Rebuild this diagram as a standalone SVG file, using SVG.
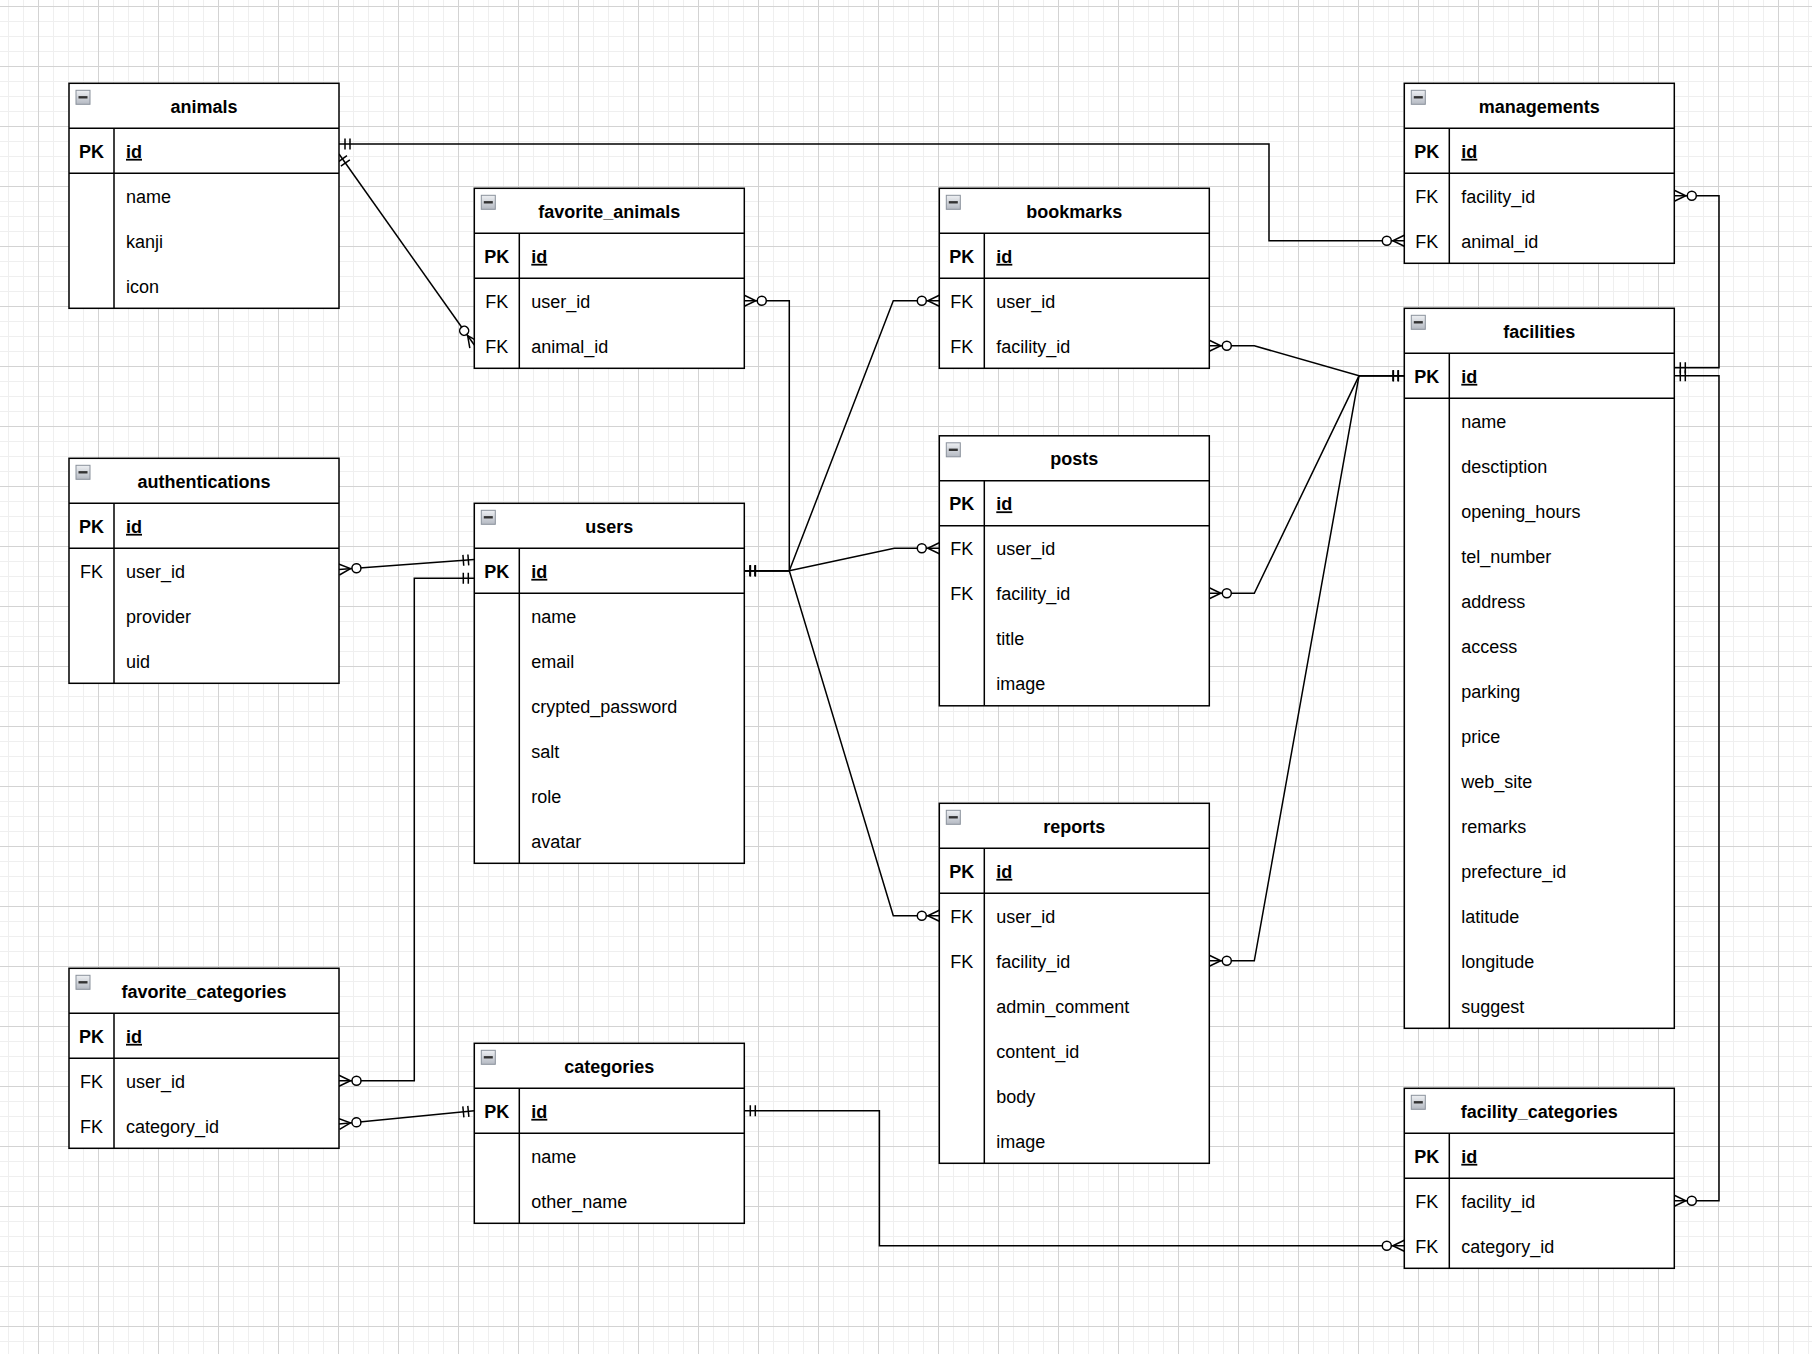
<svg xmlns="http://www.w3.org/2000/svg" xmlns:xlink="http://www.w3.org/1999/xlink" width="1812" height="1354" viewBox="0 0 1812 1354">
<style>
text{font-family:"Liberation Sans",Arial,Helvetica,sans-serif;font-size:18px;fill:#000}
.h{font-weight:bold;text-anchor:middle}
.k{text-anchor:middle}
.pk{font-weight:bold}
.id{font-weight:bold;text-decoration:underline}
.box{fill:#fff;stroke:#000;stroke-width:1.5}
.ln{fill:none;stroke:#000;stroke-width:1.5}
.edge{fill:none;stroke:#000;stroke-width:1.5}
.one{marker-start:url(#one)}
.many{marker-start:url(#many)}
.toOne{marker-end:url(#one)}
.toMany{marker-end:url(#many)}
</style>
<defs>
<pattern id="grid" patternUnits="userSpaceOnUse" x="38" y="6" width="60" height="60">
<rect width="60" height="60" fill="#fff"/>
<rect x="15" y="0" width="1" height="60" fill="#efefef"/>
<rect x="30" y="0" width="1" height="60" fill="#efefef"/>
<rect x="45" y="0" width="1" height="60" fill="#efefef"/>
<rect x="0" y="15" width="60" height="1" fill="#efefef"/>
<rect x="0" y="30" width="60" height="1" fill="#efefef"/>
<rect x="0" y="45" width="60" height="1" fill="#efefef"/>
<rect x="0" y="0" width="1" height="60" fill="#d3d3d3"/>
<rect x="0" y="0" width="60" height="1" fill="#d3d3d3"/>
</pattern>
<linearGradient id="ig" x1="0" y1="0" x2="0" y2="1">
<stop offset="0" stop-color="#eef0f3"/>
<stop offset="1" stop-color="#b4b9c2"/>
</linearGradient>
<g id="icon">
<rect x="7" y="7" width="14" height="14" fill="url(#ig)" stroke="#8a919c" stroke-width="1"/>
<rect x="9.5" y="12.8" width="9" height="2.4" fill="#333"/>
</g>
<marker id="one" markerUnits="userSpaceOnUse" markerWidth="30" markerHeight="30" refX="0" refY="0" orient="auto-start-reverse" overflow="visible">
<path d="M-6,-5.5V5.5M-11,-5.5V5.5" fill="none" stroke="#000" stroke-width="1.5"/>
</marker>
<marker id="many" markerUnits="userSpaceOnUse" markerWidth="30" markerHeight="30" refX="0" refY="0" orient="auto-start-reverse" overflow="visible">
<path d="M0,-5.5L-11.5,0L0,5.5" fill="none" stroke="#000" stroke-width="1.5"/>
<circle cx="-17.5" cy="0" r="4.5" fill="#fff" stroke="#000" stroke-width="1.5"/>
</marker>
</defs>
<rect width="1812" height="1354" fill="url(#grid)"/>

<g id="connectors">
<path class="edge one toMany" d="M339,144H1269V240.8H1404.3"/>
<path class="edge one toMany" d="M339,154L474.3,345"/>
<path class="edge many toOne" d="M744.3,300.8H789.3V570.8H744.3"/>
<path class="edge one toMany" d="M744.3,570.8H789.3L893.3,300.8H939.3"/>
<path class="edge one toMany" d="M744.3,570.8H789.3L894.3,548.3H939.3"/>
<path class="edge one toMany" d="M744.3,570.8H789.3L893.3,915.8H939.3"/>
<path class="edge many toOne" d="M339,569.5L474.3,559.5"/>
<path class="edge many toOne" d="M339,1080.8H414.3V578.3H474.3"/>
<path class="edge many toOne" d="M339,1124L474.3,1110.8"/>
<path class="edge one toMany" d="M744.3,1110.8H879.4V1245.8H1404.3"/>
<path class="edge many toOne" d="M1209.3,345.8H1254.3L1359,375.8H1404.3"/>
<path class="edge many toOne" d="M1209.3,593.3H1254.3L1359,375.8H1404.3"/>
<path class="edge many toOne" d="M1209.3,960.8H1254.3L1359,375.8H1404.3"/>
<path class="edge many toOne" d="M1674.3,195.8H1719V367.7H1674.3"/>
<path class="edge many toOne" d="M1674.3,1200.8H1719V375.7H1674.3"/>
</g>

<g id="animals" transform="translate(69,83.3)">
<rect class="box" width="270" height="225"/>
<path class="ln" d="M0,45H270M0,90H270M45,45V225"/>
<use xlink:href="#icon"/>
<text class="h" x="135" y="29.5">animals</text>
<text class="k pk" x="22.5" y="74.5">PK</text>
<text class="id" x="57" y="74.5">id</text>
<text x="57" y="119.5">name</text>
<text x="57" y="164.5">kanji</text>
<text x="57" y="209.5">icon</text>
</g>

<g id="favorite_animals" transform="translate(474.3,188.3)">
<rect class="box" width="270" height="180"/>
<path class="ln" d="M0,45H270M0,90H270M45,45V180"/>
<use xlink:href="#icon"/>
<text class="h" x="135" y="29.5">favorite_animals</text>
<text class="k pk" x="22.5" y="74.5">PK</text>
<text class="id" x="57" y="74.5">id</text>
<text class="k" x="22.5" y="119.5">FK</text>
<text x="57" y="119.5">user_id</text>
<text class="k" x="22.5" y="164.5">FK</text>
<text x="57" y="164.5">animal_id</text>
</g>

<g id="bookmarks" transform="translate(939.3,188.3)">
<rect class="box" width="270" height="180"/>
<path class="ln" d="M0,45H270M0,90H270M45,45V180"/>
<use xlink:href="#icon"/>
<text class="h" x="135" y="29.5">bookmarks</text>
<text class="k pk" x="22.5" y="74.5">PK</text>
<text class="id" x="57" y="74.5">id</text>
<text class="k" x="22.5" y="119.5">FK</text>
<text x="57" y="119.5">user_id</text>
<text class="k" x="22.5" y="164.5">FK</text>
<text x="57" y="164.5">facility_id</text>
</g>

<g id="managements" transform="translate(1404.3,83.3)">
<rect class="box" width="270" height="180"/>
<path class="ln" d="M0,45H270M0,90H270M45,45V180"/>
<use xlink:href="#icon"/>
<text class="h" x="135" y="29.5">managements</text>
<text class="k pk" x="22.5" y="74.5">PK</text>
<text class="id" x="57" y="74.5">id</text>
<text class="k" x="22.5" y="119.5">FK</text>
<text x="57" y="119.5">facility_id</text>
<text class="k" x="22.5" y="164.5">FK</text>
<text x="57" y="164.5">animal_id</text>
</g>

<g id="facilities" transform="translate(1404.3,308.3)">
<rect class="box" width="270" height="720"/>
<path class="ln" d="M0,45H270M0,90H270M45,45V720"/>
<use xlink:href="#icon"/>
<text class="h" x="135" y="29.5">facilities</text>
<text class="k pk" x="22.5" y="74.5">PK</text>
<text class="id" x="57" y="74.5">id</text>
<text x="57" y="119.5">name</text>
<text x="57" y="164.5">desctiption</text>
<text x="57" y="209.5">opening_hours</text>
<text x="57" y="254.5">tel_number</text>
<text x="57" y="299.5">address</text>
<text x="57" y="344.5">access</text>
<text x="57" y="389.5">parking</text>
<text x="57" y="434.5">price</text>
<text x="57" y="479.5">web_site</text>
<text x="57" y="524.5">remarks</text>
<text x="57" y="569.5">prefecture_id</text>
<text x="57" y="614.5">latitude</text>
<text x="57" y="659.5">longitude</text>
<text x="57" y="704.5">suggest</text>
</g>

<g id="authentications" transform="translate(69,458.3)">
<rect class="box" width="270" height="225"/>
<path class="ln" d="M0,45H270M0,90H270M45,45V225"/>
<use xlink:href="#icon"/>
<text class="h" x="135" y="29.5">authentications</text>
<text class="k pk" x="22.5" y="74.5">PK</text>
<text class="id" x="57" y="74.5">id</text>
<text class="k" x="22.5" y="119.5">FK</text>
<text x="57" y="119.5">user_id</text>
<text x="57" y="164.5">provider</text>
<text x="57" y="209.5">uid</text>
</g>

<g id="users" transform="translate(474.3,503.3)">
<rect class="box" width="270" height="360"/>
<path class="ln" d="M0,45H270M0,90H270M45,45V360"/>
<use xlink:href="#icon"/>
<text class="h" x="135" y="29.5">users</text>
<text class="k pk" x="22.5" y="74.5">PK</text>
<text class="id" x="57" y="74.5">id</text>
<text x="57" y="119.5">name</text>
<text x="57" y="164.5">email</text>
<text x="57" y="209.5">crypted_password</text>
<text x="57" y="254.5">salt</text>
<text x="57" y="299.5">role</text>
<text x="57" y="344.5">avatar</text>
</g>

<g id="posts" transform="translate(939.3,435.8)">
<rect class="box" width="270" height="270"/>
<path class="ln" d="M0,45H270M0,90H270M45,45V270"/>
<use xlink:href="#icon"/>
<text class="h" x="135" y="29.5">posts</text>
<text class="k pk" x="22.5" y="74.5">PK</text>
<text class="id" x="57" y="74.5">id</text>
<text class="k" x="22.5" y="119.5">FK</text>
<text x="57" y="119.5">user_id</text>
<text class="k" x="22.5" y="164.5">FK</text>
<text x="57" y="164.5">facility_id</text>
<text x="57" y="209.5">title</text>
<text x="57" y="254.5">image</text>
</g>

<g id="reports" transform="translate(939.3,803.3)">
<rect class="box" width="270" height="360"/>
<path class="ln" d="M0,45H270M0,90H270M45,45V360"/>
<use xlink:href="#icon"/>
<text class="h" x="135" y="29.5">reports</text>
<text class="k pk" x="22.5" y="74.5">PK</text>
<text class="id" x="57" y="74.5">id</text>
<text class="k" x="22.5" y="119.5">FK</text>
<text x="57" y="119.5">user_id</text>
<text class="k" x="22.5" y="164.5">FK</text>
<text x="57" y="164.5">facility_id</text>
<text x="57" y="209.5">admin_comment</text>
<text x="57" y="254.5">content_id</text>
<text x="57" y="299.5">body</text>
<text x="57" y="344.5">image</text>
</g>

<g id="favorite_categories" transform="translate(69,968.3)">
<rect class="box" width="270" height="180"/>
<path class="ln" d="M0,45H270M0,90H270M45,45V180"/>
<use xlink:href="#icon"/>
<text class="h" x="135" y="29.5">favorite_categories</text>
<text class="k pk" x="22.5" y="74.5">PK</text>
<text class="id" x="57" y="74.5">id</text>
<text class="k" x="22.5" y="119.5">FK</text>
<text x="57" y="119.5">user_id</text>
<text class="k" x="22.5" y="164.5">FK</text>
<text x="57" y="164.5">category_id</text>
</g>

<g id="categories" transform="translate(474.3,1043.3)">
<rect class="box" width="270" height="180"/>
<path class="ln" d="M0,45H270M0,90H270M45,45V180"/>
<use xlink:href="#icon"/>
<text class="h" x="135" y="29.5">categories</text>
<text class="k pk" x="22.5" y="74.5">PK</text>
<text class="id" x="57" y="74.5">id</text>
<text x="57" y="119.5">name</text>
<text x="57" y="164.5">other_name</text>
</g>

<g id="facility_categories" transform="translate(1404.3,1088.3)">
<rect class="box" width="270" height="180"/>
<path class="ln" d="M0,45H270M0,90H270M45,45V180"/>
<use xlink:href="#icon"/>
<text class="h" x="135" y="29.5">facility_categories</text>
<text class="k pk" x="22.5" y="74.5">PK</text>
<text class="id" x="57" y="74.5">id</text>
<text class="k" x="22.5" y="119.5">FK</text>
<text x="57" y="119.5">facility_id</text>
<text class="k" x="22.5" y="164.5">FK</text>
<text x="57" y="164.5">category_id</text>
</g>
</svg>
